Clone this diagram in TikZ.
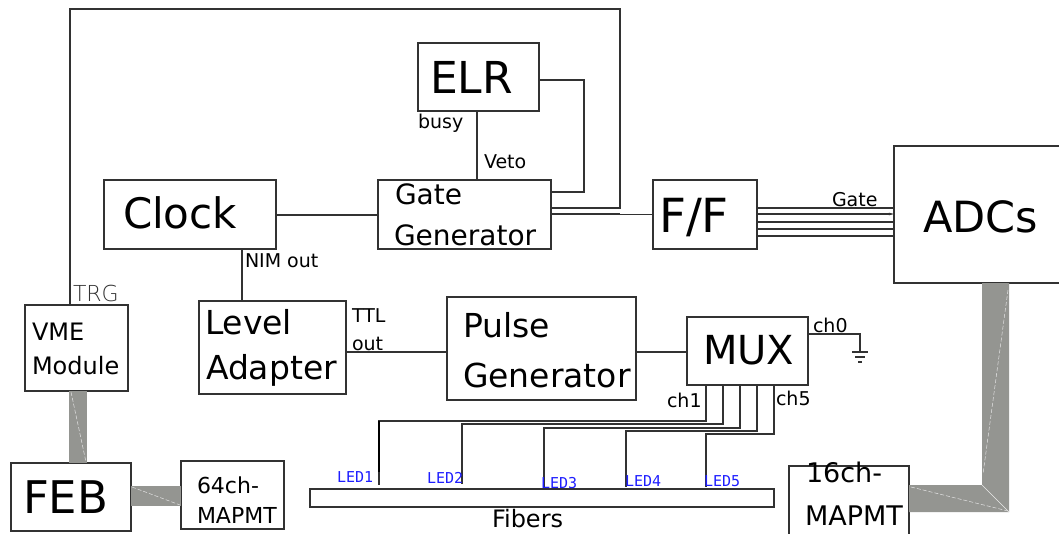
\documentclass[tikz,border=0pt]{standalone}
\usepackage{fontspec}
\setmainfont{DejaVu Sans}
\newfontfamily\thinfont{DejaVu Sans ExtraLight}
\newfontfamily\ledfont{DejaVu Sans Mono}
\usetikzlibrary{arrows.meta}
\definecolor{band}{RGB}{148,149,145}
\definecolor{ledblue}{RGB}{30,30,255}
\definecolor{wirecol}{RGB}{50,50,50}
\newcommand\fsz[1]{\fontsize{#1}{#1}\selectfont}
\begin{document}
\begin{tikzpicture}[x=1pt,y=-1pt,
  box/.style={draw=wirecol, line width=1.1pt, fill=white, inner sep=0pt, outer sep=0pt},
  openbox/.style={draw=none, inner sep=0pt, outer sep=0pt},
  wire/.style={draw=wirecol, line width=1.1pt},
  txt/.style={inner sep=0pt, outer sep=0pt, anchor=base west, text=black},
  small/.style={txt, font=\fsz{19}},
  led/.style={txt, font=\ledfont\fsz{15}, text=ledblue},
  sheen/.style={draw=white!75!band, line width=0.5pt, dash pattern=on 4pt off 2pt}]
\useasboundingbox (0,0) rectangle (1059,533);
\fill[white] (0,0) rectangle (1059,533);

% boxes
\node[box, minimum width=172, minimum height=69] (clock) at (190,214.5) {};
\node[box, minimum width=173, minimum height=69] (gg) at (464.5,214.5) {};
\node[box, minimum width=121, minimum height=68] (elr) at (478.5,77) {};
\node[box, minimum width=104, minimum height=69] (ff) at (705,214.5) {};
\node[openbox, minimum width=165, minimum height=137] (adcs) at (976.5,214.5) {};
\node[box, minimum width=147, minimum height=93] (la) at (272.5,347.5) {};
\node[box, minimum width=189, minimum height=103] (pg) at (541.5,348.5) {};
\node[box, minimum width=121, minimum height=68] (mux) at (747.5,351) {};
\node[box, minimum width=103, minimum height=86] (vme) at (76.5,348) {};
\node[box, minimum width=120, minimum height=68] (feb) at (71,497) {};
\node[box, minimum width=103, minimum height=68] (m64) at (232.5,495) {};
\node[openbox, minimum width=120, minimum height=68] (m16) at (849,500) {};
\node[box, minimum width=464, minimum height=18] (fib) at (542,498) {};
\draw[wire] (adcs.north east) -- (adcs.north west) -- (adcs.south west) -- (adcs.south east);
\draw[wire] (m16.south west) -- (m16.north west) -- (m16.north east) -- (m16.south east);

% gray cable bands
\fill[band] (vme.south -| 69,0) rectangle (feb.north -| 87,0);
\draw[sheen] (71,392) -- (86,462);
\fill[band] (feb.east |- 0,486) rectangle (m64.west |- 0,506);
\draw[sheen] (132,487) -- (180,505);
\fill[band] (adcs.south -| 982,0) -- (adcs.south -| 1009,0) -- (1009,512) -- (m16.east |- 0,512) -- (m16.east |- 0,485) -- (982,485) -- cycle;
\draw[sheen] (1008,290) -- (983,474);
\draw[sheen] (911,487) -- (1008,511);
\draw[white!80!band, line width=0.4pt] (982,485) -- (1009,512);

% connectors
\draw[wire] (vme.north -| 70,0) -- (70,9) -- (620,9) -- (620,208) -- (gg.east |- 0,208);
\draw[wire] (clock.east |- 0,215) -- (gg.west |- 0,215);
\draw[wire] (elr.south -| 477,0) -- (gg.north -| 477,0);
\draw[wire] (elr.east |- 0,80) -- (584,80) -- (584,192) -- (gg.east |- 0,192);
\draw[wire] (gg.east |- 0,214.5) -- (ff.west |- 0,214.5);
\draw[wire, line width=2pt] (gg.east |- 0,213.5) -- (620,213.5);
\foreach \yy in {208,222,229,236}
  \draw[wire] (ff.east |- 0,\yy) -- (adcs.west |- 0,\yy);
\draw[wire, -{Stealth[length=5pt,width=2.5pt]}] (ff.east |- 0,214) -- (adcs.west |- 0,214);
\draw[wire] (clock.south -| 242,0) -- (la.north -| 242,0);
\draw[wire] (la.east |- 0,352) -- (pg.west |- 0,352);
\draw[wire] (pg.east |- 0,352) -- (mux.west |- 0,352);
\coordinate (gnd) at (860,352);
\draw[wire] (mux.east |- 0,334) -| (gnd);
\draw[wire] (gnd) ++(-8,0) -- ++(16,0) (gnd) ++(-5,5) -- ++(10,0) (gnd) ++(-2,10) -- ++(4,0);
\foreach \i/\mx/\hy/\lx/\ly in {1/706/421/379/485, 2/723/424/462/484, 3/740/428/544/489, 4/757/431/626/487, 5/774/434/706/487} {
  \coordinate (led\i) at (\lx,\ly);
  \draw[wire] (mux.south -| \mx,0) |- (\lx,\hy) -- (led\i);
}
\draw[black, line width=1.6pt] (379,421) -- (379,472);

% texts
\node[txt, font=\fsz{42}] (tclock) at (123,228) {Clock};
\node[txt, font=\fsz{44}] (telr) at (430,93) {ELR};
\node[txt, font=\fsz{28}] (tgate) at (395,204) {Gate};
\node[txt, font=\fsz{28}] (tgen) at (394,245) {Generator};
\node[txt, font=\fsz{47}] (tff) at (659,232) {F/F};
\node[txt, font=\fsz{43}] (tadcs) at (923,232) {ADCs};
\node[txt, font=\fsz{33}] (tlevel) at (205,334) {Level};
\node[txt, font=\fsz{33}] (tadapt) at (206,379) {Adapter};
\node[txt, font=\fsz{33}] (tpulse) at (463,337) {Pulse};
\node[txt, font=\fsz{33}] (tpgen) at (463,387) {Generator};
\node[txt, font=\fsz{40}] (tmux) at (703,364) {MUX};
\node[txt, font=\fsz{24}] (tvme) at (32,340) {VME};
\node[txt, font=\fsz{24}] (tmod) at (32,374) {Module};
\node[txt, font=\fsz{45}] (tfeb) at (23,513) {FEB};
\node[txt, font=\fsz{22}] (t64a) at (197,493) {64ch-};
\node[txt, font=\fsz{22}] (t64b) at (197,523) {MAPMT};
\node[txt, font=\fsz{27}] (t16a) at (806,482) {16ch-};
\node[txt, font=\fsz{27}] (t16b) at (805,525) {MAPMT};
\node[small] (tnim) at (245,267) {NIM out};
\node[small] (tttl) at (352,322) {TTL};
\node[small] (tout) at (352,350) {out};
\node[small] (tbusy) at (418,128) {busy};
\node[small] (tveto) at (484,168) {Veto};
\node[small] (tgl) at (832,206) {Gate};
\node[small] (tch0) at (813,332) {ch0};
\node[small] (tch1) at (667,407) {ch1};
\node[small] (tch5) at (776,405) {ch5};
\node[txt, font=\fsz{24}] (tfib) at (492,527) {Fibers};
\node[txt, font=\thinfont\fsz{22}, text=wirecol] (ttrg) at (73,301) {TRG};
\node[led] (l1) at (337,482) {LED1};
\node[led] (l2) at (427,483) {LED2};
\node[led] (l3) at (541,488) {LED3};
\node[led] (l4) at (625,486) {LED4};
\node[led] (l5) at (704,486) {LED5};
\end{tikzpicture}
\end{document}
